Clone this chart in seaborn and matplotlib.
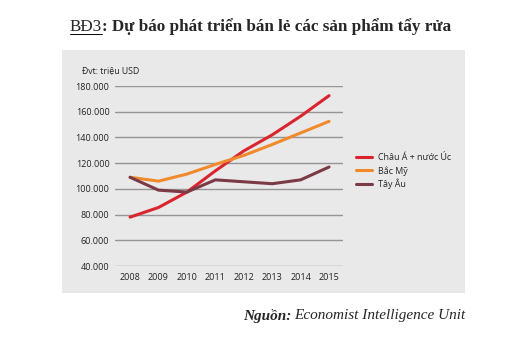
import matplotlib
matplotlib.use("Agg")
import matplotlib.pyplot as plt
import seaborn as sns
import pandas as pd
from matplotlib.patches import Rectangle
from matplotlib.ticker import FuncFormatter
from matplotlib.lines import Line2D

years = [2008, 2009, 2010, 2011, 2012, 2013, 2014, 2015]
chau_a = [78000, 85500, 97500, 114000, 129500, 142000, 156500, 172500]
bac_my = [109000, 106000, 111500, 119000, 126000, 134500, 143500, 152500]
tay_au = [109000, 99000, 97500, 107000, 105500, 104000, 107000, 117000]
series_names = ["Châu Á + nước Úc", "Bắc Mỹ", "Tây Âu"]
colors = ["#d9252e", "#f08a2c", "#7b3a45"]
yticks = [40000, 60000, 80000, 100000, 120000, 140000, 160000, 180000]

df = pd.DataFrame({"year": years * 3,
                   "value": chau_a + bac_my + tay_au,
                   "series": sum([[n] * len(years) for n in series_names], [])})

sns.set_style("white")
plt.rcParams["font.family"] = ["Open Sans", "DejaVu Sans"]

fig = plt.figure(figsize=(5.3, 3.42), dpi=100)
W, H = 530, 342
bg = Rectangle((62 / W, 1 - 293 / H), (465 - 62) / W, (293 - 50) / H,
               transform=fig.transFigure, facecolor="#e9e9e9",
               edgecolor="none", zorder=-10)
fig.patches.append(bg)

ax = fig.add_axes([115 / W, 1 - 266 / H, (343 - 115) / W, (266 - 86) / H])
ax.set_zorder(5)
ax.patch.set_visible(False)
sns.lineplot(data=df, x="year", y="value", hue="series", palette=colors,
             linewidth=2.2, ax=ax, legend=False, zorder=3)
for ln in ax.lines:
    ln.set_clip_on(False)

ax.set_xlim(2007.47, 2015.49)
ax.set_ylim(40000, 180000)
ax.set_yticks(yticks)
ax.set_xticks(years)
ax.yaxis.set_major_formatter(FuncFormatter(lambda v, p: f"{int(v):,}".replace(",", ".")))
for y in yticks:
    ax.axhline(y, color="#959595", linewidth=1.0, zorder=1)
for s in ax.spines.values():
    s.set_visible(False)
ax.tick_params(axis="both", length=0, labelsize=6.5, colors="#222222")
ax.tick_params(axis="y", pad=4)
ax.tick_params(axis="x", pad=5)
ax.set_xlabel("")
ax.set_ylabel("")

fig.text(82 / W, 1 - 71 / H, "Đvt: triệu USD", fontsize=6.3, color="#222222", va="center")

handles = [Line2D([0], [0], color=c, linewidth=2.2) for c in colors]
fig.legend(handles, series_names, loc="upper left", bbox_to_anchor=(352 / W, 1 - 149 / H),
           frameon=False, fontsize=6.4, handlelength=1.8, handletextpad=0.6,
           labelspacing=0.35, borderpad=0)

t0 = fig.text(70 / W, 1 - 27 / H, "BĐ3", fontsize=12.3, family="Liberation Serif",
              va="center", ha="left")
fig.canvas.draw()
bb = t0.get_window_extent()
x_end = bb.x1 / W
fig.lines.append(Line2D([bb.x0 / W, x_end], [(H - 34) / H, (H - 34) / H],
                        transform=fig.transFigure, color="black", linewidth=0.7))
fig.text(x_end, 1 - 27 / H, ": Dự báo phát triển bán lẻ các sản phẩm tẩy rửa",
         fontsize=12.3, family="Liberation Serif", fontweight="bold",
         va="center", ha="left")

t1 = fig.text(243 / W, 1 - 316 / H, "Nguồn:", fontsize=11, family="Liberation Serif",
              fontweight="bold", style="italic", va="center", ha="left")
fig.canvas.draw()
b1 = t1.get_window_extent()
fig.text(b1.x1 / W + 0.006, 1 - 316 / H, "Economist Intelligence Unit", fontsize=11,
         family="Liberation Serif", style="italic", va="center", ha="left")

fig.savefig("out.png", dpi=100)
